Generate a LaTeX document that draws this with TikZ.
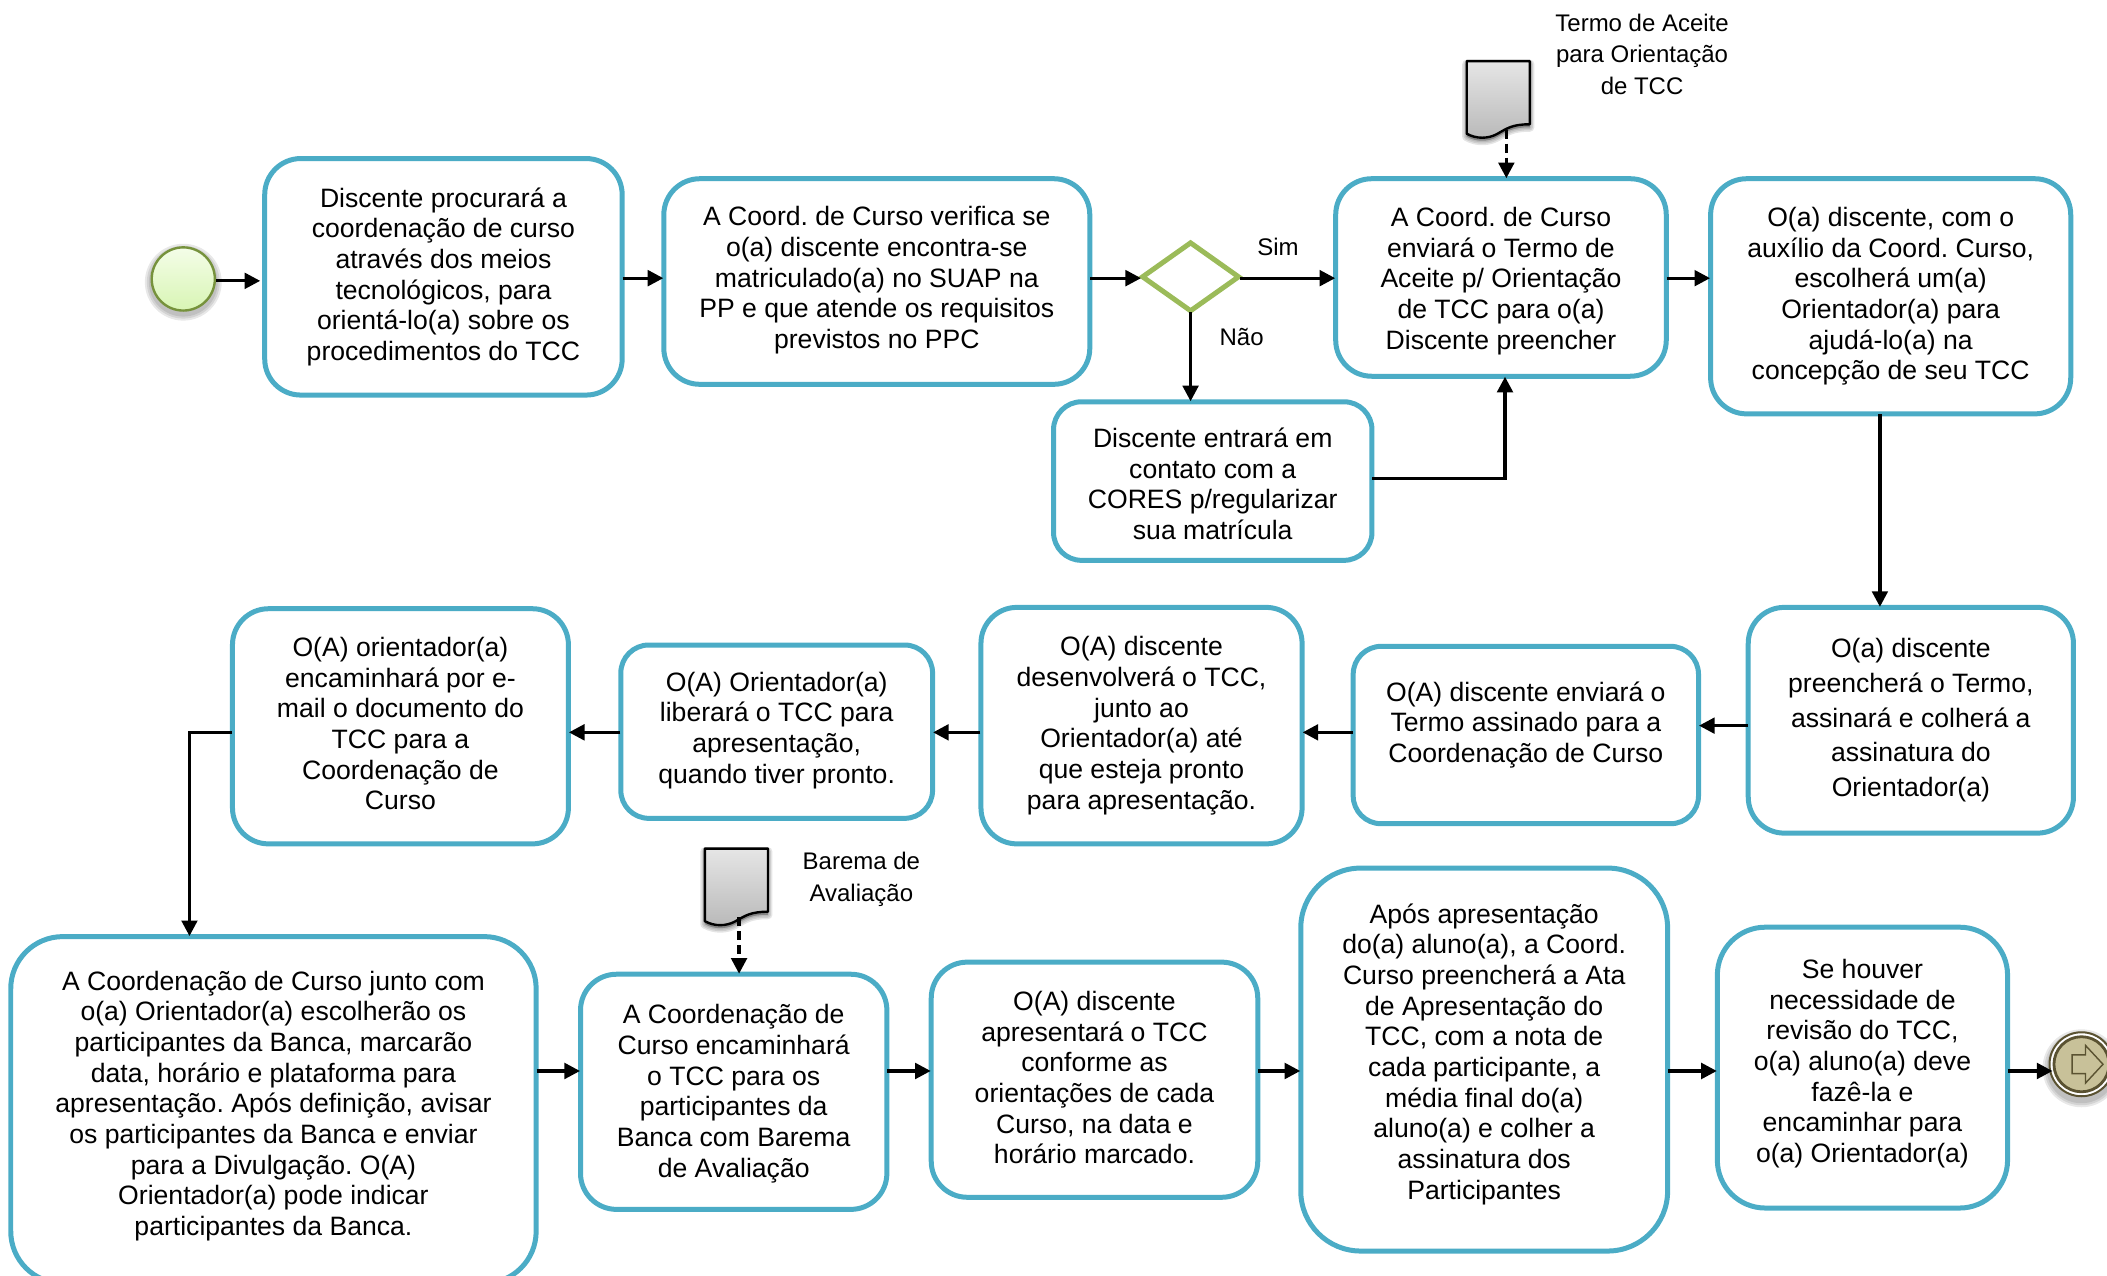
\documentclass[tikz,border=0pt]{standalone}
\usepackage{fontspec}
\setmainfont{Liberation Sans}
\frenchspacing
\usetikzlibrary{arrows.meta,calc,positioning,shapes.geometric}
\definecolor{boxblue}{HTML}{4BACC6}
\definecolor{gwgreen}{HTML}{9BBB59}
\definecolor{startline}{HTML}{76923C}
\definecolor{startlight}{HTML}{F4FDE8}
\definecolor{startdark}{HTML}{D8F5B4}
\definecolor{endfill}{HTML}{C8C199}
\definecolor{endline}{HTML}{5A5231}
\tikzset{
  x=0.672pt,y=-0.672pt,
  flow/.style={line width=1.65pt,draw=black,shorten >=-1pt,shorten <=-1pt,-{Triangle[length=7.8pt,width=7.8pt]}},
  dashflow/.style={flow,dash pattern=on 4.5pt off 2.5pt},
  procbox/.style={draw=boxblue,line width=2.5pt,fill=white,rounded corners=18pt,inner sep=0pt},
  proctext/.style={inner sep=0pt,align=center,font=\fontsize{13.3}{15.35}\selectfont},
  lbl/.style={inner sep=0pt,align=center,font=\fontsize{12}{16}\selectfont},
}
\newcommand{\procnode}[8][]{%
  \node[procbox,#1,minimum width={(#4-#2)*0.672pt},minimum height={(#5-#3)*0.672pt}] (#6) at ({(#2+#4)/2},{(#3+#5)/2}) {};
  \node[proctext] (#6-text) at ({(#2+#4)/2},{(#3+#5)/2+#7}) {#8};}
\newcommand{\docicon}[4]{% name, x1, y1, connector x offset
  \begin{scope}[shift={(#2,#3)}]
    \foreach \gr in {4.5,3,1.5}{\draw[black,opacity=0.10,fill=black,line width=\gr pt,line join=round,yshift=-1.5pt]
      (0,0) -- (47,0) -- (47,47) .. controls (34,47) and (30,50) .. (23,54) .. controls (16,58) and (7,58) .. (0,54) -- cycle;}
    \draw[line width=1.2pt,draw=black,top color=gray!20,bottom color=gray!55,line join=round]
      (0,0) -- (47,0) -- (47,47) .. controls (34,47) and (30,50) .. (23,54) .. controls (16,58) and (7,58) .. (0,54) -- cycle;
    \coordinate (#1) at (#4,51);
  \end{scope}}
\begin{document}
\begin{tikzpicture}
\useasboundingbox (0,0) rectangle (1568,949);
% start event
\foreach \gr in {5,3.5,2}{\fill[black,opacity=0.09] (136.4,210) circle ({23.6+\gr});}
\node[circle,draw=startline,line width=1.2pt,top color=startlight,bottom color=startdark,minimum size=31.6pt,inner sep=0pt] (start) at (136.4,207.6) {};
% row 1
\procnode{197}{118}{463}{294}{b1}{0}{Discente procurará a\\coordenação de curso\\através dos meios\\tecnológicos, para\\orientá-lo(a) sobre os\\procedimentos do TCC}
\procnode{494}{133}{811}{286}{b2}{-1}{A Coord. de Curso verifica se\\o(a) discente encontra-se\\matriculado(a) no SUAP na\\PP e que atende os requisitos\\previstos no PPC}
\node[diamond,draw=gwgreen,line width=2.5pt,fill=white,minimum width=49pt,minimum height=35pt,inner sep=0pt,aspect=1.4] (gw) at (886,206) {};
\procnode{994}{133}{1240}{280}{b3}{2.5}{A Coord. de Curso\\enviará o Termo de\\Aceite p/ Orientação\\de TCC para o(a)\\Discente preencher}
\procnode{1273}{133}{1541}{308}{b4}{0}{O(a) discente, com o\\auxílio da Coord. Curso,\\escolherá um(a)\\Orientador(a) para\\ajudá-lo(a) na\\concepção de seu TCC}
\procnode[rounded corners=14pt]{784}{299}{1021}{417}{cores}{2}{Discente entrará em\\contato com a\\CORES p/regularizar\\sua matrícula}
% row 2
\procnode{1301}{452}{1543}{620}{c1}{0}{O(a) discente\\[2pt]preencherá o Termo,\\[2pt]assinará e colherá a\\[2pt]assinatura do\\[2pt]Orientador(a)}
\procnode[rounded corners=14pt]{1007}{481}{1264}{613}{c2}{-7.5}{O(A) discente enviará o\\Termo assinado para a\\Coordenação de Curso}
\procnode{730}{452}{969}{628}{c3}{0}{O(A) discente\\desenvolverá o TCC,\\junto ao\\Orientador(a) até\\que esteja pronto\\para apresentação.}
\procnode[rounded corners=14pt]{462}{480}{694}{609}{c4}{-1}{O(A) Orientador(a)\\liberará o TCC para\\apresentação,\\quando tiver pronto.}
\procnode{173}{453}{423}{628}{c5}{-2}{O(A) orientador(a)\\encaminhará por e-\\mail o documento do\\TCC para a\\Coordenação de\\Curso}
% row 3
\procnode[rounded corners=26pt]{8}{697}{399}{955}{d1}{-3}{A Coordenação de Curso junto com\\o(a) Orientador(a) escolherão os\\participantes da Banca, marcarão\\data, horário e plataforma para\\apresentação. Após definição, avisar\\os participantes da Banca e enviar\\para a Divulgação. O(A)\\Orientador(a) pode indicar\\participantes da Banca.}
\procnode{432}{725}{660}{900}{d2}{1.5}{A Coordenação de\\Curso encaminhará\\o TCC para os\\participantes da\\Banca com Barema\\de Avaliação}
\procnode{693}{716}{936}{891}{d3}{-1.5}{O(A) discente\\apresentará o TCC\\conforme as\\orientações de cada\\Curso, na data e\\horário marcado.}
\procnode[rounded corners=30pt]{968}{646}{1241}{931}{d4}{-4}{Após apresentação\\do(a) aluno(a), a Coord.\\Curso preencherá a Ata\\de Apresentação do\\TCC, com a nota de\\cada participante, a\\média final do(a)\\aluno(a) e colher a\\assinatura dos\\Participantes}
\procnode[rounded corners=24pt]{1278}{690}{1494}{899}{d5}{-3}{Se houver\\necessidade de\\revisão do TCC,\\o(a) aluno(a) deve\\fazê-la e\\encaminhar para\\o(a) Orientador(a)}
% end event
\foreach \gr in {5,3.5,2}{\fill[black,opacity=0.09] (1549,795) circle ({24+\gr});}
\node[circle,draw=endline,line width=1pt,fill=white,minimum size=32pt,inner sep=0pt] (finish) at (1549,792) {};
\fill[endfill,draw=endline,line width=1.4pt] (1549,792) circle (20.5);
\draw[endline,line width=0.7pt,line join=miter] (1542,785) -- (1552,785) -- (1552,778) -- (1565,792) -- (1552,806) -- (1552,799) -- (1542,799) -- cycle;
% documents
\docicon{doc1out}{1091.5}{45.5}{29.5}
\docicon{doc2out}{524.5}{631.5}{25.5}
% labels
\node[lbl] (l1) at (1222,40.5) {Termo de Aceite\\para Orientação\\de TCC};
\node[lbl] (l2) at (641,654.5) {Barema de\\Avaliação};
\node[lbl] (sim) at (951,184) {Sim};
\node[lbl] (nao) at (924,251) {Não};
% connectors
\coordinate (x41) at (1399,0);
\coordinate (x3) at (1120,0);
\coordinate (x5) at (141,0);
\coordinate (r0) at (0,209);
\coordinate (r1) at (0,207);
\coordinate (rc) at (0,356);
\coordinate (r2a) at (0,540);
\coordinate (r2) at (0,545);
\coordinate (r3) at (0,797);
\draw[flow,shorten >=1pt,shorten <=0pt] (start.east |- r0) -- (b1.west |- r0);
\draw[flow] (b1.east |- r1) -- (b2.west |- r1);
\draw[flow] (b2.east |- r1) -- (gw.west |- r1);
\draw[flow] (gw.east |- r1) -- (b3.west |- r1);
\draw[flow] (gw.south) -- (gw.south |- cores.north);
\draw[flow] (cores.east |- rc) -| (x3 |- b3.south);
\draw[flow] (b3.east |- r1) -- (b4.west |- r1);
\draw[flow] (x41 |- b4.south) -- (x41 |- c1.north);
\draw[flow] (c1.west |- r2a) -- (c2.east |- r2a);
\draw[flow] (c2.west |- r2) -- (c3.east |- r2);
\draw[flow] (c3.west |- r2) -- (c4.east |- r2);
\draw[flow] (c4.west |- r2) -- (c5.east |- r2);
\draw[flow] (c5.west |- r2) -| (x5 |- d1.north);
\draw[flow] (d1.east |- r3) -- (d2.west |- r3);
\draw[flow] (d2.east |- r3) -- (d3.west |- r3);
\draw[flow] (d3.east |- r3) -- (d4.west |- r3);
\draw[flow] (d4.east |- r3) -- (d5.west |- r3);
\draw[flow,shorten >=-2pt] (d5.east |- r3) -- (finish.west |- r3);
\draw[dashflow,shorten <=0pt] (doc1out) -- (doc1out |- b3.north);
\draw[dashflow,shorten <=0pt] (doc2out) -- (doc2out |- d2.north);
\end{tikzpicture}
\end{document}
